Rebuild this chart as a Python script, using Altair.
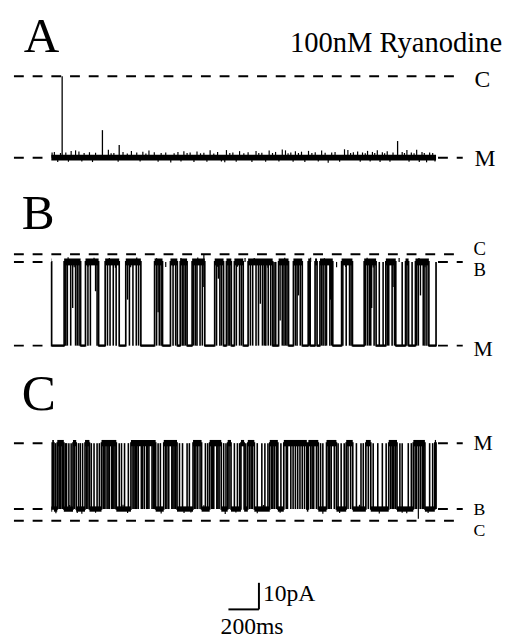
import altair as alt
import pandas as pd

SERIF = "Liberation Serif, Times New Roman, serif"

# ---------------- data (time in ms, current in pA) ----------------
TRACE_END = 2522            # length of each record, ms
SCALE_T = 200               # time scale bar, ms
SCALE_I = 10                # current scale bar, pA

# vertical stacking of the three records (pA offsets)
A_OFFSET = 175.9
B_OFFSET = 105.2
C_OFFSET = 39.3

# current levels of each record, relative to its own offset (pA)
A_LEVEL_M = 0.0
A_LEVEL_C = 30.7
B_LEVEL_M = 0.0
B_LEVEL_B = 31.5
B_LEVEL_C = 34.4
C_LEVEL_C = 0.0
C_LEVEL_B = 4.4
C_LEVEL_M = 29.2

# Record A: events rising from M (ms, pA)
A_EVENT_T = [71, 335, 445, 2270]
A_EVENT_H = [30.7, 10.4, 4.8, 6.3]
# Record A: small noise excursions (ms, pA)
A_NOISE_T = [5, 20, 42, 60, 95, 112, 130, 159, 181, 200, 215, 250, 270, 290, 374, 392,
             410, 438, 470, 498, 525, 560, 582, 600, 620, 640, 675, 700, 720, 750, 783,
             805, 830, 850, 869, 890, 910, 935, 955, 978, 1000, 1020, 1041, 1065, 1090,
             1115, 1137, 1148, 1170, 1190, 1212, 1234, 1262, 1290, 1315, 1342, 1360, 1380,
             1405, 1428, 1450, 1470, 1492, 1514, 1535, 1552, 1570, 1585, 1600, 1620, 1640,
             1662, 1686, 1708, 1730, 1750, 1772, 1795, 1815, 1838, 1860, 1890, 1922, 1944,
             1962, 1980, 2008, 2025, 2040, 2058, 2073, 2090, 2105, 2120, 2137, 2155, 2170,
             2185, 2202, 2220, 2240, 2300, 2315, 2331, 2345, 2360, 2378, 2395, 2412, 2430,
             2445, 2460, 2480, 2500, 2515]
A_NOISE_H = [2.0, 2.2, -1.6, 1.8, 2.0, -1.5, 2.6, 2.8, 2.4, -1.4, 1.8, 2.1, -1.6, 1.9, 3.0, 1.7,
             1.8, -1.5, 2.2, 1.6, 2.6, 2.0, -1.4, 2.3, 1.6, 2.7, 2.1, -1.5, 1.8, 2.0, -1.8,
             1.7, 2.2, -1.4, 2.5, 1.8, 2.0, -1.6, 2.4, 1.7, 1.9, -1.5, 2.8, 1.6, 2.2,
             -1.4, -1.7, 2.9, 1.8, 2.0, -1.5, 2.5, 1.7, 2.1, -1.6, 2.6, 1.8, 1.9,
             -1.5, 2.7, 1.8, 2.2, -1.4, 3.1, 2.8, 1.7, 2.0, -1.5, 2.5, 1.8, 2.3,
             -1.6, 2.6, 1.8, 2.1, -1.4, 2.7, 1.9, -1.9, 2.0, 2.2, -1.5, 3.2, 2.9,
             1.8, 2.1, 2.4, -1.5, 2.0, 1.7, 2.6, -1.4, 2.2, 1.8, 2.8, -1.6, 2.1,
             1.7, 2.5, -1.5, 2.0, 2.2, 1.8, 2.9, -1.5, 2.0, 1.7, 3.0, -1.6, 2.2,
             1.8, -1.7, 2.0, 1.8, -1.4]

# Record B: closures from B level down to M (start, end in ms)
B_CLOSE_START = [2, 192, 310, 445, 587, 729, 826, 890, 1006, 1129, 1180, 1258, 1451,
                 1555, 1645, 1697, 1742, 1845, 1974, 2129, 2258, 2342, 2475]
B_CLOSE_END = [84, 224, 353, 488, 677, 781, 845, 923, 1071, 1148, 1200, 1290, 1490,
               1587, 1684, 1729, 1761, 1903, 2051, 2193, 2322, 2387, 2522]
# Record B: brief full closures / reopenings (ms)
B_BRIEF_T = [95, 105, 127, 159, 170, 182, 240, 256, 300, 368, 385, 406, 425, 512, 535,
             557, 572, 690, 708, 720, 798, 815, 858, 869, 880, 933, 945, 955, 975, 990,
             1083, 1105, 1116, 1159, 1170, 1213, 1234, 1246, 1305, 1320, 1342, 1358, 1384,
             1396, 1406, 1422, 1438, 1460, 1471, 1514, 1525, 1535, 1545, 1600, 1611, 1632,
             1692, 1772, 1782, 1795, 1804, 1826, 1838, 1911, 1933, 1955, 1965, 2060, 2073,
             2085, 2094, 2116, 2150, 2175, 2203, 2212, 2234, 2250, 2300, 2331, 2365, 2395,
             2406, 2438, 2449, 2462]
# Record B: partial closures (ms, fraction of B-M amplitude)
B_PARTIAL_T = [140, 290, 500, 700, 1000, 1095, 1370, 1500, 1620, 1830, 2100, 2240, 2420]
B_PARTIAL_F = [0.55, 0.35, 0.45, 0.6, 0.3, 0.2, 0.5, 0.7, 0.4, 0.45, 0.55, 0.3, 0.4]
# Record B: small noise excursions on the B level (ms, pA)
B_NOISE_T = [110, 150, 240, 280, 380, 420, 520, 560, 690, 750, 800, 850, 960, 1000, 1090,
             1220, 1270, 1330, 1420, 1530, 1600, 1700, 1790, 1870, 1930, 2070, 2110, 2210,
             2280, 2410, 2450]
B_NOISE_H = [1.8, -2.0, -1.8, 1.6, 1.5, -2.2, -2.0, 1.7, 1.4, -1.9, -1.6, 1.5, 1.7, 3.0,
             -1.8, -1.8, 1.5, 1.5, -2.2, 1.6, -1.5, 1.6, 1.4, -2.0, -1.9, 1.6, -2.1, -1.7,
             1.5, 1.5, -2.0]

# Record C: dwells at the M level (start, end in ms); the rest is at B
C_TOP_START = [6, 39, 142, 221, 329, 522, 737, 929, 1038, 1156, 1243, 1288, 1432, 1524,
               1685, 1804, 1933, 2062, 2212, 2373, 2514]
C_TOP_END = [17, 82, 163, 250, 426, 684, 824, 985, 1114, 1178, 1264, 1331, 1485, 1675,
             1750, 1869, 1976, 2094, 2266, 2449, 2522]
# Record C: brief full transitions between B and M (ms)
C_BRIEF_T = [28, 50, 56, 62, 72, 92, 100, 115, 130, 150, 178, 190, 205, 232, 240, 262,
             280, 300, 315, 340, 346, 352, 365, 372, 380, 395, 402, 410, 418, 445, 460,
             480, 505, 535, 542, 550, 560, 570, 590, 598, 610, 625, 632, 640, 660, 668,
             675, 700, 715, 750, 758, 770, 790, 797, 805, 815, 840, 860, 890, 905, 940,
             948, 960, 975, 1010, 1025, 1050, 1058, 1065, 1085, 1092, 1100, 1130, 1145,
             1165, 1200, 1220, 1235, 1275, 1300, 1310, 1318, 1350, 1380, 1400, 1420, 1445,
             1452, 1462, 1475, 1505, 1540, 1548, 1570, 1585, 1600, 1615, 1630, 1645, 1660,
             1700, 1710, 1720, 1738, 1765, 1780, 1815, 1825, 1835, 1855, 1880, 1900, 1920,
             1945, 1962, 2000, 2030, 2045, 2078, 2110, 2140, 2170, 2195, 2225, 2235, 2245,
             2255, 2285, 2300, 2340, 2360, 2385, 2395, 2408, 2420, 2432, 2440, 2480, 2500]
# Record C: small noise excursions (ms, pA) on the B level
C_NOISE_T = [30, 120, 170, 200, 290, 470, 500, 720, 870, 915, 1000, 1140, 1210, 1350,
             1390, 1500, 1780, 1890, 2020, 2150, 2300, 2330, 2406, 2470]
C_NOISE_H = [-1.6, 1.5, -1.5, -1.8, -1.4, 1.6, -1.5, -1.7, -1.5, -1.3, 1.4, -1.9, -1.3, -1.6,
             1.5, -1.4, -1.8, -1.5, 1.6, -1.7, -1.4, -1.6, -3.7, -1.5]

# ---------------- scales ----------------
X_DOMAIN = [-284, 2929]
Y_DOMAIN = [0, 230.4]


def X(field):
    return alt.X(field, type="quantitative", scale=alt.Scale(domain=X_DOMAIN, nice=False, zero=False), axis=None)


def Y(field):
    return alt.Y(field, type="quantitative", scale=alt.Scale(domain=Y_DOMAIN, nice=False, zero=False), axis=None)


def step_trace(starts, ends, base, other, offset):
    rows = [(0, base)]
    for a, b in zip(starts, ends):
        rows += [(a, base), (a, other), (b, other), (b, base)]
    rows.append((TRACE_END, base))
    return pd.DataFrame({"t": [r[0] for r in rows],
                         "i": [offset + r[1] for r in rows],
                         "k": list(range(len(rows)))})


def bands(starts, ends, level_in, level_out, offset, half_in, half_out):
    rows = []
    prev = 0
    for a, b in zip(starts, ends):
        if a > prev:
            rows.append((prev, a, offset + level_out - half_out, offset + level_out + half_out))
        rows.append((a, b, offset + level_in - half_in, offset + level_in + half_in))
        prev = b
    if prev < TRACE_END:
        rows.append((prev, TRACE_END, offset + level_out - half_out, offset + level_out + half_out))
    return pd.DataFrame(rows, columns=["t", "t2", "i", "i2"])


layers = []


def dashed(level, segments):
    df = pd.DataFrame({"t": [s[0] for s in segments], "t2": [s[1] for s in segments],
                       "i": [level] * len(segments)})
    return alt.Chart(df).mark_rule(strokeDash=[10, 9], strokeWidth=2, color="black").encode(
        x=X("t"), x2="t2", y=Y("i"))


FULL = [(-245, 2697)]
SIDES = [(-245, -26), (2535, 2697)]

layers += [dashed(A_OFFSET + A_LEVEL_C, FULL), dashed(A_OFFSET + A_LEVEL_M, SIDES),
           dashed(B_OFFSET + B_LEVEL_C, FULL), dashed(B_OFFSET + B_LEVEL_B, SIDES),
           dashed(B_OFFSET + B_LEVEL_M, SIDES),
           dashed(C_OFFSET + C_LEVEL_M, SIDES), dashed(C_OFFSET + C_LEVEL_B, SIDES),
           dashed(C_OFFSET + C_LEVEL_C, FULL)]

TRACE_COLOR = "#000000"


def rules(df, width):
    return alt.Chart(df).mark_rule(color=TRACE_COLOR, strokeWidth=width).encode(x=X("t"), y=Y("i"), y2="i2")


# ----- record A -----
a_band = pd.DataFrame({"t": [0], "t2": [TRACE_END], "i": [A_OFFSET - 1.0], "i2": [A_OFFSET + 1.1]})
layers.append(alt.Chart(a_band).mark_rect(color=TRACE_COLOR).encode(x=X("t"), x2="t2", y=Y("i"), y2="i2"))
layers.append(rules(pd.DataFrame({"t": A_NOISE_T, "i": [A_OFFSET] * len(A_NOISE_T),
                                  "i2": [A_OFFSET + h for h in A_NOISE_H]}), 1.2))
layers.append(rules(pd.DataFrame({"t": A_EVENT_T, "i": [A_OFFSET] * len(A_EVENT_T),
                                  "i2": [A_OFFSET + h for h in A_EVENT_H]}), 1.3))

# ----- record B -----
b_line = step_trace(B_CLOSE_START, B_CLOSE_END, B_LEVEL_B, B_LEVEL_M, B_OFFSET)
layers.append(alt.Chart(b_line).mark_line(color=TRACE_COLOR, strokeWidth=1.7).encode(
    x=X("t"), y=Y("i"), order="k:Q"))
b_band = bands(B_CLOSE_START, B_CLOSE_END, B_LEVEL_M, B_LEVEL_B, B_OFFSET, 0.4, 1.3)
layers.append(alt.Chart(b_band).mark_rect(color=TRACE_COLOR).encode(x=X("t"), x2="t2", y=Y("i"), y2="i2"))
layers.append(rules(pd.DataFrame({"t": B_BRIEF_T, "i": [B_OFFSET + B_LEVEL_B] * len(B_BRIEF_T),
                                  "i2": [B_OFFSET + B_LEVEL_M] * len(B_BRIEF_T)}), 1.6))
layers.append(rules(pd.DataFrame({"t": B_PARTIAL_T, "i": [B_OFFSET + B_LEVEL_B] * len(B_PARTIAL_T),
                                  "i2": [B_OFFSET + B_LEVEL_B - f * (B_LEVEL_B - B_LEVEL_M) for f in B_PARTIAL_F]}), 1.4))
layers.append(rules(pd.DataFrame({"t": B_NOISE_T, "i": [B_OFFSET + B_LEVEL_B] * len(B_NOISE_T),
                                  "i2": [B_OFFSET + B_LEVEL_B + h for h in B_NOISE_H]}), 1.2))

# ----- record C -----
c_line = step_trace(C_TOP_START, C_TOP_END, C_LEVEL_B, C_LEVEL_M, C_OFFSET)
layers.append(alt.Chart(c_line).mark_line(color=TRACE_COLOR, strokeWidth=1.7).encode(
    x=X("t"), y=Y("i"), order="k:Q"))
c_band = bands(C_TOP_START, C_TOP_END, C_LEVEL_M, C_LEVEL_B, C_OFFSET, 1.2, 1.0)
layers.append(alt.Chart(c_band).mark_rect(color=TRACE_COLOR).encode(x=X("t"), x2="t2", y=Y("i"), y2="i2"))
layers.append(rules(pd.DataFrame({"t": C_BRIEF_T, "i": [C_OFFSET + C_LEVEL_B] * len(C_BRIEF_T),
                                  "i2": [C_OFFSET + C_LEVEL_M] * len(C_BRIEF_T)}), 1.6))
layers.append(rules(pd.DataFrame({"t": C_NOISE_T, "i": [C_OFFSET + C_LEVEL_B] * len(C_NOISE_T),
                                  "i2": [C_OFFSET + C_LEVEL_B + h for h in C_NOISE_H]}), 1.2))

# ----- scale bar -----
SB_T0 = 1161
SB_I0 = 5.93
sb = pd.DataFrame({"t": [SB_T0, SB_T0 + SCALE_T], "t2": [SB_T0 + SCALE_T, SB_T0 + SCALE_T],
                   "i": [SB_I0, SB_I0], "i2": [SB_I0, SB_I0 + SCALE_I]})
layers.append(alt.Chart(sb).mark_rule(color="black", strokeWidth=2).encode(x=X("t"), x2="t2", y=Y("i"), y2="i2"))


# ----- text -----
def label(text, x, y, size, align="left"):
    return alt.Chart(pd.DataFrame({"s": [text]})).mark_text(
        x=x, y=y, fontSize=size, align=align, baseline="alphabetic", font=SERIF, color="black"
    ).encode(text="s:N")


layers += [
    label("A", 16, 40, 50), label("B", 14, 219, 50), label("C", 14, 403, 52),
    label("100nM Ryanodine", 502, 40, 29, "right"),
    label("C", 474, 75, 24), label("M", 474, 155, 24),
    label("C", 473, 246, 19), label("B", 473, 267, 19), label("M", 473, 349, 22),
    label("M", 473, 444, 22), label("B", 473, 510, 18), label("C", 473, 531, 18),
    label("10pA", 259, 597, 24), label("200ms", 216, 631, 24),
]

chart = alt.layer(*layers).properties(
    width=498, height=622, autosize="none", background="white",
    padding={"left": 0, "top": 0, "right": 8, "bottom": 8},
).configure_view(strokeWidth=0, stroke=None)

chart.save("out.html", embed_options={"renderer": "svg", "actions": False})
